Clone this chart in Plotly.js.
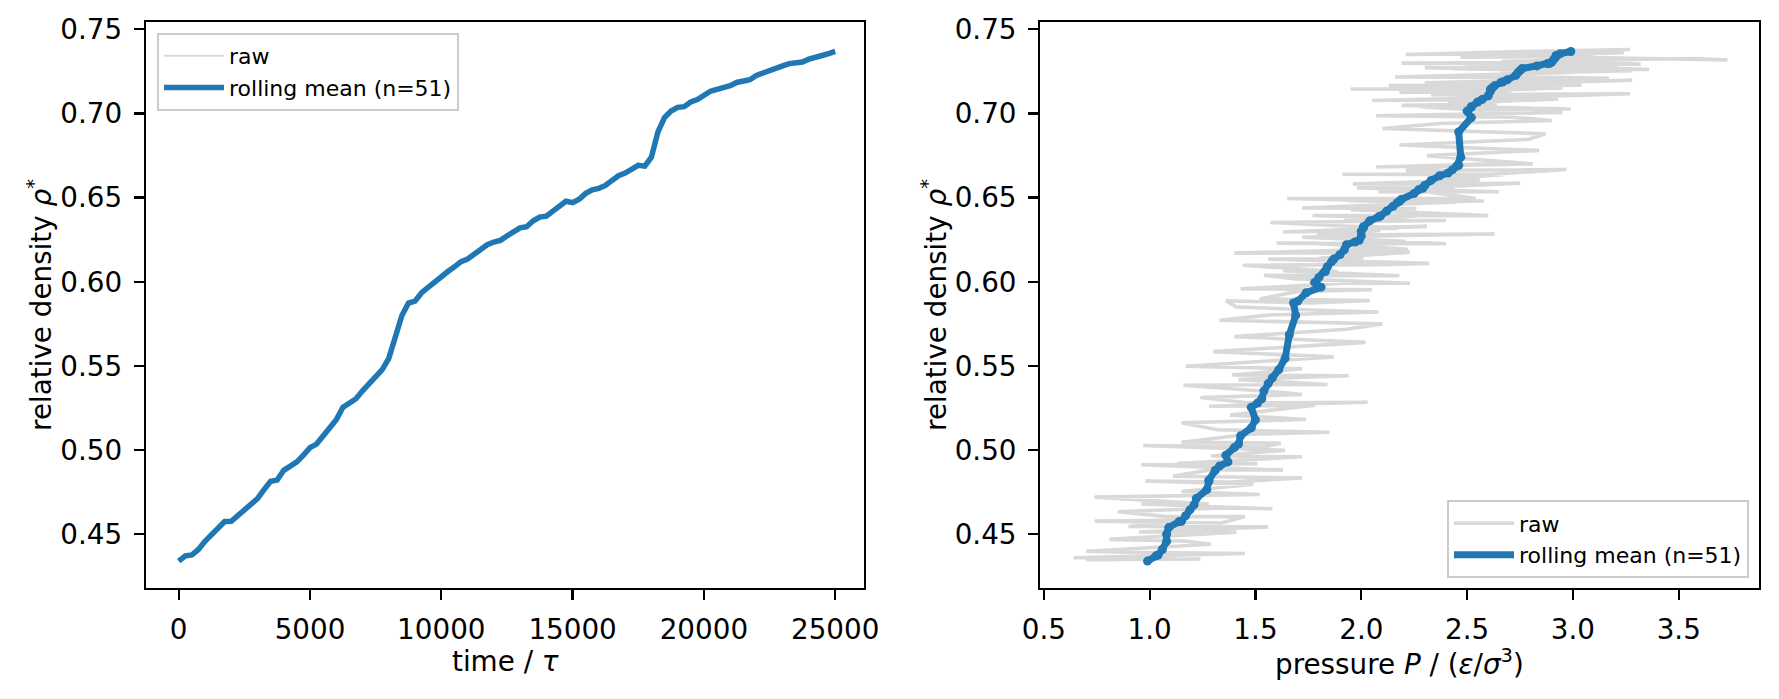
<!DOCTYPE html>
<html>
<head>
<meta charset="utf-8">
<script src="https://cdn.plot.ly/plotly-3.0.1.min.js"></script>
<style>
  html, body { margin: 0; padding: 0; background: #ffffff; }
  #chart { width: 1779px; height: 699px; }
</style>
</head>
<body>
<div id="chart"></div>
<script>
// ---- rolling mean (n=51), sampled every 250 tau ----
const meanTime = [0,250,500,750,1000,1250,1500,1750,2000,2250,
  2500,2750,3000,3250,3500,3750,4000,4250,4500,4750,
  5000,5250,5500,5750,6000,6250,6500,6750,7000,7250,
  7500,7750,8000,8250,8500,8750,9000,9250,9500,9750,
  10000,10250,10500,10750,11000,11250,11500,11750,12000,12250,
  12500,12750,13000,13250,13500,13750,14000,14250,14500,14750,
  15000,15250,15500,15750,16000,16250,16500,16750,17000,17250,
  17500,17750,18000,18250,18500,18750,19000,19250,19500,19750,
  20000,20250,20500,20750,21000,21250,21500,21750,22000,22250,
  22500,22750,23000,23250,23500,23750,24000,24250,24500,24750,
  25000];
const meanDensity = [0.4341,0.4372,0.4377,0.4410,0.4458,0.4500,0.4540,0.4576,0.4577,0.4610,
  0.4645,0.4675,0.4712,0.4765,0.4815,0.4822,0.4880,0.4905,0.4930,0.4970,
  0.5015,0.5036,0.5085,0.5132,0.5180,0.5254,0.5280,0.5305,0.5352,0.5395,
  0.5430,0.5478,0.5545,0.5685,0.5800,0.5874,0.5885,0.5935,0.5968,0.5996,
  0.6026,0.6061,0.6089,0.6120,0.6135,0.6162,0.6190,0.6220,0.6236,0.6246,
  0.6272,0.6300,0.6320,0.6327,0.6362,0.6384,0.6390,0.6420,0.6448,0.6478,
  0.6470,0.6490,0.6525,0.6546,0.6555,0.6572,0.6602,0.6630,0.6646,0.6665,
  0.6692,0.6687,0.6740,0.6890,0.6975,0.7014,0.7036,0.7040,0.7068,0.7082,
  0.7105,0.7132,0.7143,0.7153,0.7165,0.7184,0.7188,0.7200,0.7226,0.7242,
  0.7254,0.7267,0.7282,0.7296,0.7297,0.7305,0.7322,0.7336,0.7344,0.7355,
  0.7368];
const meanPressure = [0.99,1.03,1.04,1.06,1.08,1.08,1.09,1.14,1.15,1.17,
  1.19,1.21,1.22,1.27,1.28,1.28,1.31,1.33,1.37,1.36,
  1.40,1.42,1.43,1.48,1.50,1.48,1.51,1.53,1.54,1.56,
  1.58,1.61,1.64,1.66,1.69,1.68,1.70,1.74,1.81,1.78,
  1.80,1.83,1.84,1.86,1.87,1.90,1.92,1.93,1.97,1.99,
  2.00,2.00,2.01,2.01,2.04,2.08,2.09,2.12,2.15,2.18,
  2.17,2.19,2.25,2.27,2.29,2.30,2.33,2.37,2.41,2.43,
  2.46,2.45,2.47,2.46,2.52,2.50,2.52,2.52,2.55,2.57,
  2.60,2.61,2.61,2.62,2.63,2.66,2.67,2.69,2.73,2.74,
  2.75,2.76,2.83,2.88,2.89,2.90,2.91,2.92,2.92,2.94,
  2.99];

// ---- raw samples (every 125 tau, denser where the density jumps) ----
const rawTime = [0,125,250,375,500,625,750,875,1000,1125,
  1250,1375,1500,1625,1750,1875,2000,2125,2250,2375,
  2500,2625,2750,2875,3000,3125,3250,3375,3500,3625,
  3750,3875,4000,4125,4250,4375,4500,4625,4750,4875,
  5000,5125,5250,5375,5500,5625,5750,5875,6000,6125,
  6250,6375,6500,6625,6750,6875,7000,7125,7250,7375,
  7500,7625,7750,7875,8000,8063,8125,8188,8250,8313,8375,8438,8500,8563,8625,8688,
  8750,8875,9000,9125,9250,9375,9500,9625,9750,9875,
  10000,10125,10250,10375,10500,10625,10750,10875,11000,11125,
  11250,11375,11500,11625,11750,11875,12000,12125,12250,12375,
  12500,12625,12750,12875,13000,13125,13250,13375,13500,13625,
  13750,13875,14000,14125,14250,14375,14500,14625,14750,14875,
  15000,15125,15250,15375,15500,15625,15750,15875,16000,16125,
  16250,16375,16500,16625,16750,16875,17000,17125,17250,17375,
  17500,17625,17750,17875,18000,18063,18125,18188,18250,18313,18375,18438,18500,18563,18625,18688,
  18750,18875,19000,19125,19250,19375,19500,19625,19750,19875,
  20000,20125,20250,20375,20500,20625,20750,20875,21000,21125,
  21250,21375,21500,21625,21750,21875,22000,22125,22250,22375,
  22500,22625,22750,22875,23000,23125,23250,23375,23500,23625,
  23750,23875,24000,24125,24250,24375,24500,24625,24750,24875,
  25000];
const rawDensity = [0.4353,0.4349,0.4377,0.4361,0.4386,0.4391,0.4399,0.4441,0.4460,0.4470,
  0.4513,0.4514,0.4544,0.4546,0.4584,0.4578,0.4567,0.4605,0.4605,0.4634,
  0.4657,0.4652,0.4680,0.4680,0.4721,0.4736,0.4754,0.4797,0.4817,0.4810,
  0.4835,0.4845,0.4884,0.4881,0.4913,0.4919,0.4920,0.4961,0.4965,0.4999,
  0.5027,0.5018,0.5041,0.5047,0.5094,0.5106,0.5121,0.5163,0.5182,0.5208,
  0.5267,0.5261,0.5284,0.5281,0.5313,0.5330,0.5342,0.5385,0.5390,0.5419,
  0.5442,0.5446,0.5483,0.5498,0.5554,0.5585,0.5612,0.5640,0.5674,0.5718,0.5750,0.5771,0.5802,0.5820,0.5828,0.5851,
  0.5887,0.5874,0.5889,0.5898,0.5943,0.5953,0.5958,0.5993,0.5991,0.6017,
  0.6038,0.6036,0.6066,0.6061,0.6098,0.6102,0.6109,0.6135,0.6137,0.6140,
  0.6175,0.6170,0.6194,0.6193,0.6228,0.6229,0.6226,0.6252,0.6241,0.6265,
  0.6284,0.6278,0.6305,0.6296,0.6329,0.6321,0.6316,0.6352,0.6364,0.6364,
  0.6397,0.6381,0.6394,0.6393,0.6428,0.6435,0.6438,0.6474,0.6473,0.6480,
  0.6482,0.6472,0.6495,0.6494,0.6534,0.6533,0.6535,0.6558,0.6557,0.6555,
  0.6585,0.6581,0.6606,0.6604,0.6638,0.6639,0.6636,0.6667,0.6660,0.6685,
  0.6704,0.6682,0.6692,0.6700,0.6749,0.6780,0.6812,0.6846,0.6879,0.6910,0.6940,0.6958,0.6977,0.6984,0.6986,0.7006,
  0.7027,0.7019,0.7040,0.7026,0.7048,0.7055,0.7058,0.7086,0.7077,0.7100,
  0.7117,0.7111,0.7137,0.7124,0.7152,0.7145,0.7142,0.7166,0.7167,0.7166,
  0.7197,0.7180,0.7192,0.7182,0.7208,0.7214,0.7216,0.7245,0.7237,0.7254,
  0.7266,0.7253,0.7272,0.7261,0.7291,0.7286,0.7285,0.7304,0.7299,0.7292,
  0.7318,0.7308,0.7326,0.7317,0.7344,0.7341,0.7334,0.7361,0.7350,0.7368,
  0.7380];
const rawPressure = [1.24,0.70,1.15,0.64,1.45,1.00,0.70,1.29,1.16,0.81,
  1.41,0.95,1.56,0.90,1.17,0.74,1.34,1.45,1.08,0.85,
  1.34,1.58,0.96,1.28,0.74,1.52,1.15,1.49,0.98,1.38,
  1.72,1.11,1.29,1.63,0.96,1.51,1.13,1.72,1.29,1.64,
  0.97,1.54,1.62,1.15,1.47,1.85,1.32,1.15,1.74,1.38,
  1.78,1.28,2.03,1.46,1.24,1.72,1.63,1.16,1.84,1.42,
  1.94,1.39,1.72,1.17,1.87,1.30,1.67,2.02,1.40,1.93,2.10,1.33,1.56,2.08,1.86,1.41,
  1.36,1.76,2.04,1.52,1.70,2.05,1.43,1.94,2.23,1.69,
  1.54,2.18,1.63,1.89,1.44,2.09,2.32,1.56,2.01,1.80,
  2.23,1.40,2.10,2.22,1.78,1.60,2.40,1.96,2.21,1.72,
  2.63,1.79,2.09,1.63,2.31,1.94,2.17,1.57,2.40,1.92,
  2.33,2.12,1.77,2.60,1.95,2.26,1.72,2.45,2.12,2.58,
  1.93,2.39,1.65,2.54,2.32,2.08,2.65,1.98,2.44,2.20,
  2.75,1.96,2.56,2.32,2.68,1.91,2.58,2.97,2.21,2.37,
  2.72,2.07,2.58,2.81,2.31,2.84,2.18,2.79,2.87,2.10,2.37,2.90,2.72,2.16,2.07,2.95,
  2.80,2.56,2.27,2.99,2.19,2.64,2.41,2.93,2.05,2.81,
  3.27,2.33,2.71,2.18,2.95,1.95,2.83,2.13,3.04,2.41,
  3.28,2.49,2.70,2.30,3.17,2.88,2.16,3.03,2.66,3.28,
  2.43,2.98,2.30,3.36,2.68,3.21,2.49,3.02,2.19,3.32,
  2.97,2.66,3.57,3.73,2.58,3.10,2.47,3.24,2.21,2.76,
  3.27];

// ---- tick labels ----
const timeTicks = [0, 5000, 10000, 15000, 20000, 25000];
const densityTicks = [0.45, 0.50, 0.55, 0.60, 0.65, 0.70, 0.75];
const pressureTicks = [0.5, 1.0, 1.5, 2.0, 2.5, 3.0, 3.5];

const RAW_NAME = 'raw';
const MEAN_NAME = 'rolling mean (n=51)';
const BLUE = '#1f77b4';
const GRAY = '#d9d9d9';
const FONT = 'DejaVu Sans, Verdana, sans-serif';

const traces = [
  { x: rawTime, y: rawDensity, xaxis: 'x', yaxis: 'y', type: 'scatter', mode: 'lines',
    name: RAW_NAME, legend: 'legend', line: { color: GRAY, width: 2 } },
  { x: meanTime, y: meanDensity, xaxis: 'x', yaxis: 'y', type: 'scatter', mode: 'lines',
    name: MEAN_NAME, legend: 'legend', line: { color: BLUE, width: 5.5 } },
  { x: rawPressure, y: rawDensity, xaxis: 'x2', yaxis: 'y2', type: 'scatter', mode: 'lines',
    name: RAW_NAME, legend: 'legend2', line: { color: GRAY, width: 3.6 } },
  { x: meanPressure, y: meanDensity, xaxis: 'x2', yaxis: 'y2', type: 'scatter', mode: 'lines',
    name: MEAN_NAME, legend: 'legend2', line: { color: BLUE, width: 7 } },
  { x: meanPressure, y: meanDensity, xaxis: 'x2', yaxis: 'y2', type: 'scatter', mode: 'markers',
    showlegend: false, marker: { color: BLUE, size: 9 } }
];

const W = 1779, H = 699;
function axisCommon() {
  return {
    showline: true, linecolor: '#000000', linewidth: 2.2, mirror: true,
    ticks: 'outside', ticklen: 9.7, tickwidth: 2.2, tickcolor: '#000000',
    showgrid: false, zeroline: false,
    tickfont: { family: FONT, size: 27.8, color: '#000000' },
    ticklabelstandoff: 6
  };
}
const yDomain = [1 - 588 / H, 1 - 22 / H];
const titleFont = { family: FONT, size: 27.8, color: '#000000' };

const layout = {
  width: W, height: H,
  margin: { l: 0, r: 0, t: 0, b: 0 },
  paper_bgcolor: '#ffffff', plot_bgcolor: '#ffffff',
  font: { family: FONT, size: 27.8, color: '#000000' },
  showlegend: true,
  xaxis: Object.assign(axisCommon(), {
    domain: [145.7 / W, 864 / W], range: [-1257, 26097],
    tickvals: timeTicks, ticktext: timeTicks.map(String),
    anchor: 'y'
  }),
  yaxis: Object.assign(axisCommon(), {
    domain: yDomain, range: [0.4181, 0.7543],
    tickvals: densityTicks, ticktext: densityTicks.map(v => v.toFixed(2)),
    title: { text: 'relative density <i>ρ</i><sup>*</sup>', font: titleFont },
    anchor: 'x'
  }),
  xaxis2: Object.assign(axisCommon(), {
    domain: [1040 / W, 1759 / W], range: [0.482, 3.879],
    tickvals: pressureTicks, ticktext: pressureTicks.map(v => v.toFixed(1)),
    anchor: 'y2'
  }),
  yaxis2: Object.assign(axisCommon(), {
    domain: yDomain, range: [0.4181, 0.7543],
    tickvals: densityTicks, ticktext: densityTicks.map(v => v.toFixed(2)),
    title: { text: 'relative density <i>ρ</i><sup>*</sup>', font: titleFont },
    anchor: 'x2'
  }),
  annotations: [
    { text: 'time / <i>τ</i>', xref: 'paper', yref: 'paper',
      x: 505 / W, y: 1 - 661 / H, xanchor: 'center', yanchor: 'middle',
      showarrow: false, font: titleFont },
    { text: 'pressure <i>P</i> / (<i>ε</i>/<i>σ</i><sup>3</sup>)', xref: 'paper', yref: 'paper',
      x: 1399.5 / W, y: 1 - 662 / H, xanchor: 'center', yanchor: 'middle',
      showarrow: false, font: titleFont }
  ],
  legend: {
    x: 157 / W, y: 1 - 33 / H, xanchor: 'left', yanchor: 'top',
    bgcolor: 'rgba(255,255,255,0.8)', bordercolor: '#cccccc', borderwidth: 2,
    font: { family: FONT, size: 22, color: '#000000' }, itemwidth: 60
  },
  legend2: {
    x: 1749 / W, y: 1 - 578.3 / H, xanchor: 'right', yanchor: 'bottom',
    bgcolor: 'rgba(255,255,255,0.8)', bordercolor: '#cccccc', borderwidth: 2,
    font: { family: FONT, size: 22, color: '#000000' }, itemwidth: 60
  }
};

Plotly.newPlot('chart', traces, layout, { staticPlot: true, displayModeBar: false });
</script>
</body>
</html>
